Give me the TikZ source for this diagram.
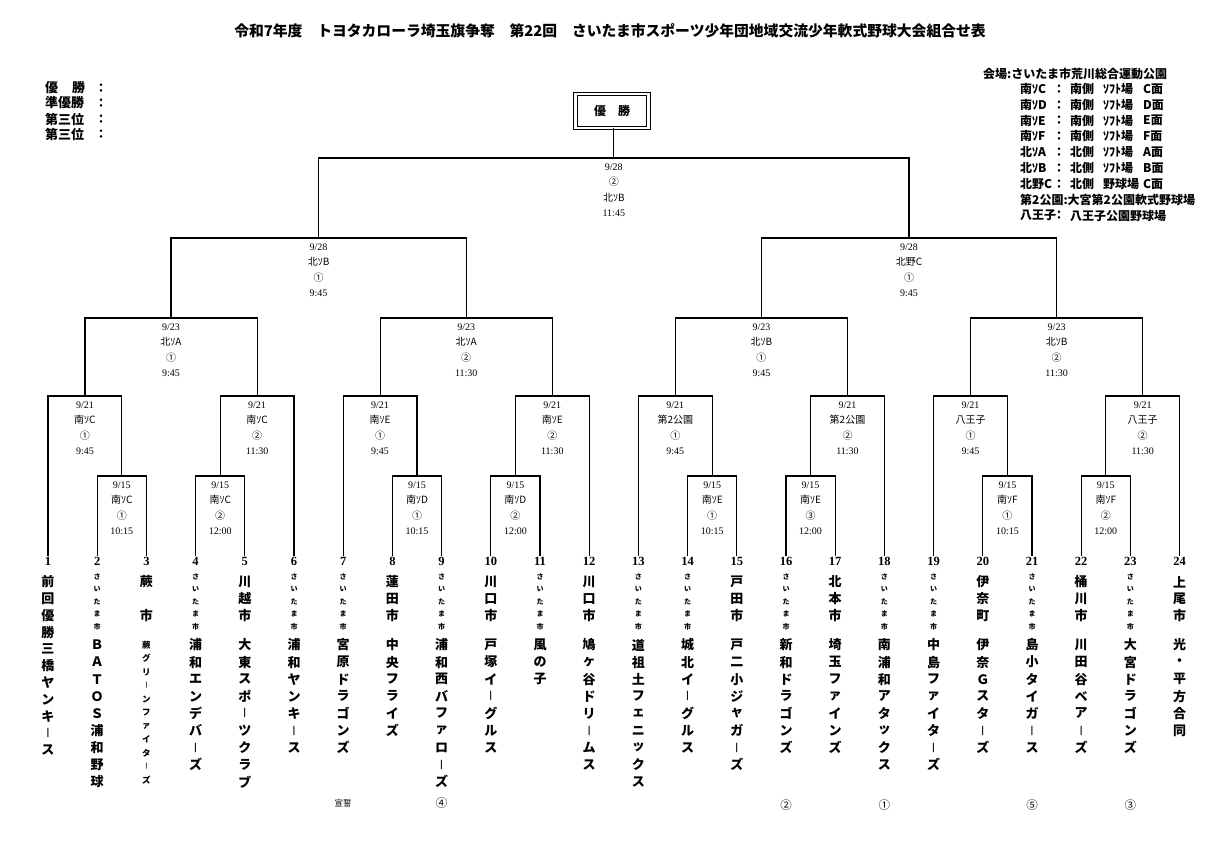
\documentclass[tikz,border=0pt]{standalone}
\usepackage{fontspec}
\setmainfont{Liberation Serif}
\newfontfamily\jp{Noto Sans CJK JP}
\usetikzlibrary{calc}
\newcommand\tx[1]{48+49.2*(#1-1)}
\newcommand\cho{\scalebox{1.6}[0.72]{｜}}
\newcommand\vtext[6]{\foreach \c [count=\k] in {#6}{\node[#1] (#2-\k) at ({#3},{#4+(\k-1)*#5}) {\c};}}
\newcommand\game[7]{%
  \coordinate (#1) at (#2,#3);
  \node[dt] (#1-d) at (#2,{#3+8.8}) {#4};
  \node[vn] (#1-v) at (#2,{#3+24}) {#5};
  \node[vn] (#1-n) at (#2,{#3+39.5}) {#6};
  \node[dt] (#1-t) at (#2,{#3+55}) {#7};}
\tikzset{
 br/.style={line width=1.2pt},
 ttl/.style={font=\jp\bfseries\fontsize{14.8}{14.8}\selectfont, inner sep=0},
 tl/.style={font=\jp\bfseries\fontsize{13}{13}\selectfont, inner sep=0, anchor=west},
 lg/.style={font=\jp\bfseries\fontsize{12}{12}\selectfont, inner sep=0, anchor=west},
 lgc/.style={font=\jp\bfseries\fontsize{12}{12}\selectfont, inner sep=0},
 tnum/.style={font=\bfseries\fontsize{12.5}{12.5}\selectfont, inner sep=1pt, anchor=north},
 vbig/.style={font=\jp\bfseries\fontsize{13}{13}\selectfont, inner sep=0},
 vsmall/.style={font=\jp\bfseries\fontsize{7}{7}\selectfont, inner sep=0},
 sname/.style={font=\jp\bfseries\fontsize{8.5}{8.5}\selectfont, inner sep=0},
 dt/.style={font=\fontsize{10}{10}\selectfont, inner sep=0},
 vn/.style={font=\jp\fontsize{10}{10}\selectfont, inner sep=0},
 rank/.style={font=\jp\fontsize{11.5}{11.5}\selectfont, inner sep=0},
 champ/.style={draw, double, double distance=2.5pt, line width=0.8pt, minimum width=73pt, minimum height=34pt, font=\jp\bfseries\fontsize{12}{12}\selectfont},
}
\begin{document}
\begin{tikzpicture}[x=1pt,y=-1pt]
\fill[white] (0,0) rectangle (1219,841);
\path[use as bounding box] (0,0) rectangle (1219,841);

% title
\node[ttl] (title) at (610,31) {令和7年度　トヨタカローラ埼玉旗争奪　第22回　さいたま市スポーツ少年団地域交流少年軟式野球大会組合せ表};

% top-left results
\node[tl] (r1) at (45,88) {優\hspace{14pt}勝};
\node[tl] (r2) at (45,103) {準優勝};
\node[tl] (r3) at (45,119) {第三位};
\node[tl] (r4) at (45,134) {第三位};
\foreach \y [count=\i] in {88,103,119,134} \node[lgc] (rc\i) at (101,\y) {：};

% venue legend
\node[lg] (v0) at (983,74) {会場:さいたま市荒川総合運動公園};
\foreach \a/\b/\cc/\d [count=\i] in {南ｿC/南側/ｿﾌﾄ場/C面, 南ｿD/南側/ｿﾌﾄ場/D面, 南ｿE/南側/ｿﾌﾄ場/E面, 南ｿF/南側/ｿﾌﾄ場/F面, 北ｿA/北側/ｿﾌﾄ場/A面, 北ｿB/北側/ｿﾌﾄ場/B面, 北野C/北側/野球場/C面}{
  \pgfmathsetmacro\yy{89+15.8*(\i-1)}
  \node[lg] (va\i) at (1020,\yy) {\a};
  \node[lgc] (vc\i) at (1059,\yy) {：};
  \node[lg] (vb\i) at (1070,\yy) {\b};
  \node[lg] (vs\i) at (1103,\yy) {\cc};
  \node[lg] (vd\i) at (1143,\yy) {\d};
}
\node[lg] (v8) at (1020,200) {第2公園:大宮第2公園軟式野球場};
\node[lg] (v9a) at (1020,215.5) {八王子};
\node[lgc] (v9c) at (1059,215.5) {：};
\node[lg] (v9b) at (1070,215.5) {八王子公園野球場};

% champion box
\node[champ] (champ) at (612,111) {優　勝};

% team numbers
\foreach \i in {1,...,24} \node[tnum] (n\i) at ({\tx{\i}},556) {\i};

% prefixes
\foreach \i in {2,4,6,7,9,11,13,14,16,18,19,21,23} {\vtext{vsmall}{s\i}{\tx{\i}}{577}{12.4}{さ,い,た,ま,市}}
\vtext{vbig}{p1}{\tx{1}}{582}{16.8}{前,回,優,勝,三,橋,ヤ,ン,キ,\cho,ス}
\vtext{vbig}{p3}{\tx{3}}{582}{16.7}{蕨,{},市}
\vtext{vbig}{p5}{\tx{5}}{582}{16.7}{川,越,市}
\vtext{vbig}{p8}{\tx{8}}{582}{16.7}{蓮,田,市}
\vtext{vbig}{p10}{\tx{10}}{582}{16.7}{川,口,市}
\vtext{vbig}{p12}{\tx{12}}{582}{16.7}{川,口,市}
\vtext{vbig}{p15}{\tx{15}}{582}{16.7}{戸,田,市}
\vtext{vbig}{p17}{\tx{17}}{582}{16.7}{北,本,市}
\vtext{vbig}{p20}{\tx{20}}{582}{16.7}{伊,奈,町}
\vtext{vbig}{p22}{\tx{22}}{582}{16.7}{桶,川,市}
\vtext{vbig}{p24}{\tx{24}}{582}{16.7}{上,尾,市}

% team names
\vtext{vbig}{t2}{\tx{2}}{645}{17.1}{Ｂ,Ａ,Ｔ,Ｏ,Ｓ,浦,和,野,球}
\vtext{sname}{t3}{\tx{3}}{645}{13.5}{蕨,グ,リ,\cho,ン,フ,ァ,イ,タ,\cho,ズ}
\vtext{vbig}{t4}{\tx{4}}{645}{17.1}{浦,和,エ,ン,デ,バ,\cho,ズ}
\vtext{vbig}{t5}{\tx{5}}{645}{17.1}{大,東,ス,ポ,\cho,ツ,ク,ラ,ブ}
\vtext{vbig}{t6}{\tx{6}}{645}{17.1}{浦,和,ヤ,ン,キ,\cho,ス}
\vtext{vbig}{t7}{\tx{7}}{645}{17.1}{宮,原,ド,ラ,ゴ,ン,ズ}
\vtext{vbig}{t8}{\tx{8}}{645}{17.1}{中,央,フ,ラ,イ,ズ}
\vtext{vbig}{t9}{\tx{9}}{645}{17.1}{浦,和,西,バ,フ,ァ,ロ,\cho,ズ}
\vtext{vbig}{t10}{\tx{10}}{645}{17.1}{戸,塚,イ,\cho,グ,ル,ス}
\vtext{vbig}{t11}{\tx{11}}{645}{17.1}{風,の,子}
\vtext{vbig}{t12}{\tx{12}}{645}{17.1}{鳩,ヶ,谷,ド,リ,\cho,ム,ス}
\vtext{vbig}{t13}{\tx{13}}{645}{17.1}{道,祖,土,フ,ェ,ニ,ッ,ク,ス}
\vtext{vbig}{t14}{\tx{14}}{645}{17.1}{城,北,イ,\cho,グ,ル,ス}
\vtext{vbig}{t15}{\tx{15}}{645}{17.1}{戸,二,小,ジ,ャ,ガ,\cho,ズ}
\vtext{vbig}{t16}{\tx{16}}{645}{17.1}{新,和,ド,ラ,ゴ,ン,ズ}
\vtext{vbig}{t17}{\tx{17}}{645}{17.1}{埼,玉,フ,ァ,イ,ン,ズ}
\vtext{vbig}{t18}{\tx{18}}{645}{17.1}{南,浦,和,ア,タ,ッ,ク,ス}
\vtext{vbig}{t19}{\tx{19}}{645}{17.1}{中,島,フ,ァ,イ,タ,\cho,ズ}
\vtext{vbig}{t20}{\tx{20}}{645}{17.1}{伊,奈,Ｇ,ス,タ,\cho,ズ}
\vtext{vbig}{t21}{\tx{21}}{645}{17.1}{島,小,タ,イ,ガ,\cho,ス}
\vtext{vbig}{t22}{\tx{22}}{645}{17.1}{川,田,谷,ベ,ア,\cho,ズ}
\vtext{vbig}{t23}{\tx{23}}{645}{17.1}{大,宮,ド,ラ,ゴ,ン,ズ}
\vtext{vbig}{t24}{\tx{24}}{645}{17.1}{光,・,平,方,合,同}

% bottom marks
\node[vn, font=\jp\fontsize{8.5}{8.5}\selectfont] (sen) at ({\tx{7}},803) {宣誓};
\node[rank] (k9) at ({\tx{9}},803) {④};
\node[rank] (k16) at ({\tx{16}},805) {②};
\node[rank] (k18) at ({\tx{18}},805) {①};
\node[rank] (k21) at ({\tx{21}},805) {⑤};
\node[rank] (k23) at ({\tx{23}},805) {③};

% games
\game{g1}{121.8}{476}{9/15}{南ｿC}{①}{10:15}
\game{g2}{220.2}{476}{9/15}{南ｿC}{②}{12:00}
\game{g3}{417}{476}{9/15}{南ｿD}{①}{10:15}
\game{g4}{515.4}{476}{9/15}{南ｿD}{②}{12:00}
\game{g5}{712.2}{476}{9/15}{南ｿE}{①}{10:15}
\game{g6}{810.6}{476}{9/15}{南ｿE}{③}{12:00}
\game{g7}{1007.4}{476}{9/15}{南ｿF}{①}{10:15}
\game{g8}{1105.8}{476}{9/15}{南ｿF}{②}{12:00}
\game{h1}{84.9}{396}{9/21}{南ｿC}{①}{9:45}
\game{h2}{257.1}{396}{9/21}{南ｿC}{②}{11:30}
\game{h3}{380.1}{396}{9/21}{南ｿE}{①}{9:45}
\game{h4}{552.3}{396}{9/21}{南ｿE}{②}{11:30}
\game{h5}{675.3}{396}{9/21}{第2公園}{①}{9:45}
\game{h6}{847.5}{396}{9/21}{第2公園}{②}{11:30}
\game{h7}{970.5}{396}{9/21}{八王子}{①}{9:45}
\game{h8}{1142.7}{396}{9/21}{八王子}{②}{11:30}
\game{k1}{171}{318}{9/23}{北ｿA}{①}{9:45}
\game{k2}{466.2}{318}{9/23}{北ｿA}{②}{11:30}
\game{k3}{761.4}{318}{9/23}{北ｿB}{①}{9:45}
\game{k4}{1056.6}{318}{9/23}{北ｿB}{②}{11:30}
\game{s1}{318.6}{238}{9/28}{北ｿB}{①}{9:45}
\game{s2}{909}{238}{9/28}{北野C}{①}{9:45}
\game{f}{613.8}{158}{9/28}{②}{北ｿB}{11:45}

% bracket lines
\draw[br] (n2.north) |- (g1) -| (n3.north);
\draw[br] (n4.north) |- (g2) -| (n5.north);
\draw[br] (n8.north) |- (g3) -| (n9.north);
\draw[br] (n10.north) |- (g4) -| (n11.north);
\draw[br] (n14.north) |- (g5) -| (n15.north);
\draw[br] (n16.north) |- (g6) -| (n17.north);
\draw[br] (n20.north) |- (g7) -| (n21.north);
\draw[br] (n22.north) |- (g8) -| (n23.north);
\draw[br] (n1.north) |- (h1) -| (g1);
\draw[br] (g2) |- (h2) -| (n6.north);
\draw[br] (n7.north) |- (h3) -| (g3);
\draw[br] (g4) |- (h4) -| (n12.north);
\draw[br] (n13.north) |- (h5) -| (g5);
\draw[br] (g6) |- (h6) -| (n18.north);
\draw[br] (n19.north) |- (h7) -| (g7);
\draw[br] (g8) |- (h8) -| (n24.north);
\draw[br] (h1) |- (k1) -| (h2);
\draw[br] (h3) |- (k2) -| (h4);
\draw[br] (h5) |- (k3) -| (h6);
\draw[br] (h7) |- (k4) -| (h8);
\draw[br] (k1) |- (s1) -| (k2);
\draw[br] (k3) |- (s2) -| (k4);
\draw[br] (s1) |- (f) -| (s2);
\draw[br] (f) -- (f |- champ.south);
\end{tikzpicture}
\end{document}
